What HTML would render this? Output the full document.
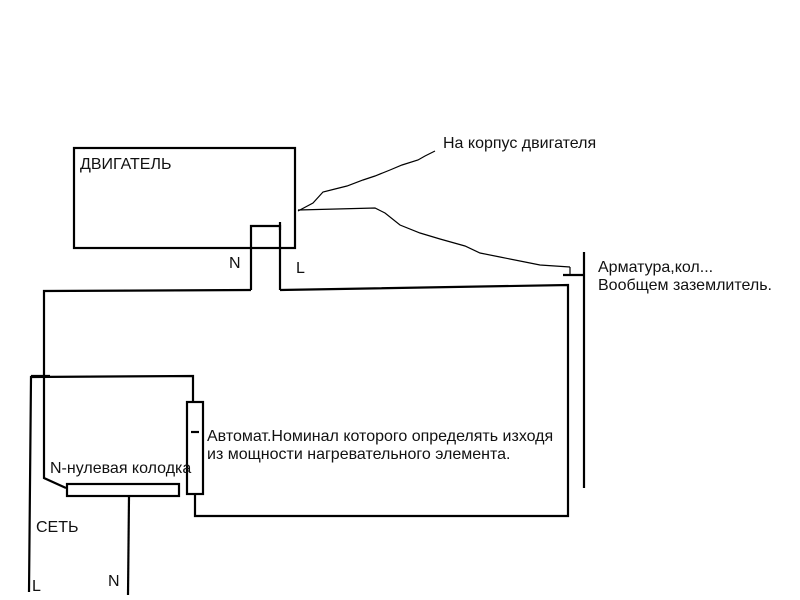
<!DOCTYPE html>
<html><head><meta charset="utf-8"><style>
body{margin:0;width:800px;height:600px;background:#fff;overflow:hidden}
svg{display:block}
text{font-family:"Liberation Sans",sans-serif;font-size:16px;fill:#111}
</style></head><body>
<svg width="800" height="600" viewBox="0 0 800 600">
<g fill="none" stroke="#000" stroke-width="2.2">
<rect x="74" y="148" width="221" height="100"/>
<polyline points="251,290 251,226 280,226 280,290"/>
<line x1="280" y1="222" x2="280" y2="230"/>
<polyline points="251,290 44,291 44,462 44,478 66,488"/>
<polyline points="280,290 568,285 568,516 195,516 195,494"/>
<rect x="187" y="402" width="16" height="92"/>
<polyline points="193,402 193,376 31,377 29,592"/>
<line x1="31" y1="376" x2="50" y2="376"/>
<rect x="67" y="484" width="112" height="12"/>
<line x1="129" y1="496" x2="128" y2="595"/>
<line x1="584" y1="252" x2="584" y2="488"/>
<line x1="563" y1="275" x2="584" y2="275"/>
<line x1="570" y1="267" x2="570" y2="275" stroke-width="1.2"/>
<line x1="191" y1="432" x2="199" y2="432"/>
</g>
<g fill="none" stroke="#000" stroke-width="1.2">
<polyline points="298,211 313,203 323,192 335,189 347,186 363,180 375,176 390,170 402,165 418,160 425,156 435,151"/>
<polyline points="298,210 375,208 385,213 400,225 420,233 440,239 465,246 480,253 500,257 525,262 540,265 570,267"/>
</g>
<text x="80" y="169">ДВИГАТЕЛЬ</text>
<text x="443" y="148">На корпус двигателя</text>
<text x="598" y="272">Арматура,кол...</text>
<text x="598" y="290">Вообщем заземлитель.</text>
<text x="207" y="441">Автомат.Номинал которого определять изходя</text>
<text x="207" y="459">из мощности нагревательного элемента.</text>
<text x="50" y="473">N-нулевая колодка</text>
<text x="36" y="532">СЕТЬ</text>
<text x="32" y="591">L</text>
<text x="108" y="586">N</text>
<text x="229" y="268">N</text>
<text x="296" y="273">L</text>
</svg>
</body></html>
